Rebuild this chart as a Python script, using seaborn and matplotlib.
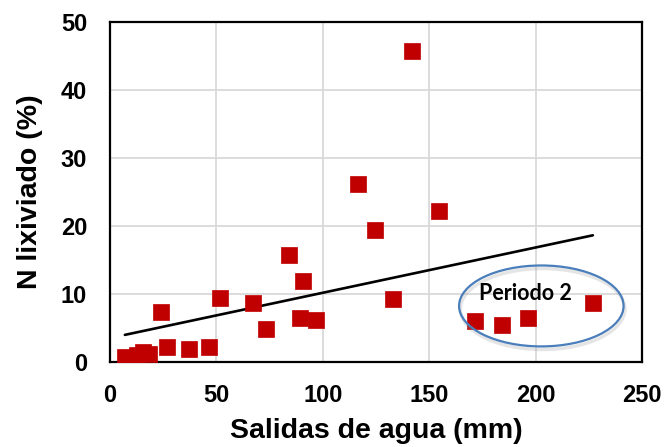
import matplotlib
matplotlib.use("Agg")
import matplotlib.pyplot as plt
from matplotlib.patches import Ellipse
import seaborn as sns
import pandas as pd

# Water outflow (mm) and leached nitrogen (%) per event
salidas_mm = [7.0, 12.5, 15.6, 18.4, 24.2, 26.9, 37.2, 46.3, 51.6, 67.2, 73.4, 83.9,
              89.1, 90.6, 96.9, 116.4, 124.7, 132.8, 141.7, 154.7, 171.4, 184.4, 196.4, 226.9]
n_lixiviado = [0.7, 1.0, 1.4, 1.1, 7.35, 2.1, 1.8, 2.1, 9.3, 8.6, 4.8, 15.7,
               6.4, 11.8, 6.1, 26.1, 19.4, 9.2, 45.7, 22.2, 6.0, 5.4, 6.4, 8.7]

x_ticks = [0, 50, 100, 150, 200, 250]
y_ticks = [0, 10, 20, 30, 40, 50]

df = pd.DataFrame({"salidas": salidas_mm, "n": n_lixiviado})

sns.set_theme(style="white")
plt.rcParams["font.family"] = ["Liberation Sans", "DejaVu Sans"]
plt.rcParams["text.color"] = "black"
plt.rcParams["axes.labelcolor"] = "black"
plt.rcParams["xtick.color"] = "black"
plt.rcParams["ytick.color"] = "black"

fig = plt.figure(figsize=(6.67, 4.47), dpi=100)
ax = fig.add_axes([0.1649, 0.1908, 0.7976, 0.7607])

# Linear trend line over the data range
sns.regplot(data=df, x="salidas", y="n", ax=ax, scatter=False, ci=None, truncate=True,
            line_kws={"color": "black", "linewidth": 1.9, "zorder": 3})

sns.scatterplot(data=df, x="salidas", y="n", ax=ax, marker="s", s=128,
                color="#C00000", edgecolor="#C00000", linewidth=0.5, zorder=4)

ax.set_xlim(0, 250)
ax.set_ylim(0, 50)
ax.set_xticks(x_ticks)
ax.set_yticks(y_ticks)
ax.grid(True, color="#D9D9D9", linewidth=1.3)
ax.set_axisbelow(True)

for side in ["left", "bottom", "top", "right"]:
    ax.spines[side].set_visible(True)
    ax.spines[side].set_color("black")
    ax.spines[side].set_linewidth(1.6)

ax.tick_params(axis="both", which="major", direction="out", length=7, width=1.3,
               color="black", labelcolor="black", labelsize=17)
ax.tick_params(axis="x", pad=9)
ax.tick_params(axis="y", pad=9.5)
for lbl in ax.get_xticklabels() + ax.get_yticklabels():
    lbl.set_fontweight("bold")

ax.set_xlabel("Salidas de agua (mm)", fontsize=20.5, fontweight="bold", labelpad=8)
ax.set_ylabel("N lixiviado (%)", fontsize=20.5, fontweight="bold", labelpad=13)

# Highlight of the second period
shadow = Ellipse((203.3, 7.75), 77.3, 11.9, fill=False, edgecolor="#999999",
                 linewidth=2.5, alpha=0.25, zorder=5)
ax.add_patch(shadow)
ring = Ellipse((202.7, 8.2), 77.3, 11.9, fill=False, edgecolor="#4A7EBB",
               linewidth=1.6, zorder=6)
ax.add_patch(ring)
ax.text(195.3, 10.1, "Periodo 2", ha="center", va="center", fontsize=15.5,
        fontweight="bold", family=["Lato", "DejaVu Sans"], color="black", zorder=7)

fig.savefig("out.png", dpi=100)
